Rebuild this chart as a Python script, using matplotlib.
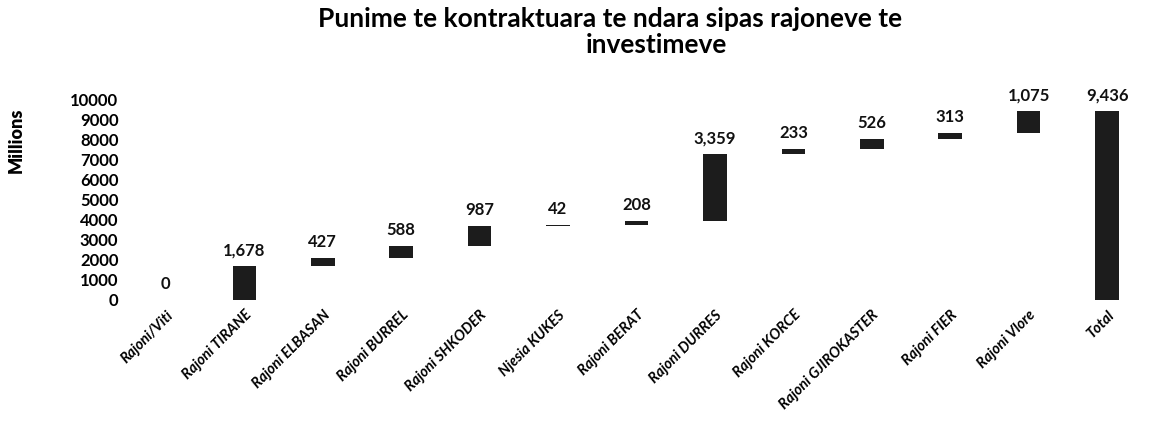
import matplotlib.pyplot as plt
import numpy as np

# Data (values in millions)
categories = ['Rajoni/Viti', 'Rajoni TIRANE', 'Rajoni ELBASAN', 'Rajoni BURREL',
              'Rajoni SHKODER', 'Njesia KUKES', 'Rajoni BERAT', 'Rajoni DURRES',
              'Rajoni KORCE', 'Rajoni GJIROKASTER', 'Rajoni FIER', 'Rajoni Vlore', 'Total']
values = [0, 1678, 427, 588, 987, 42, 208, 3359, 233, 526, 313, 1075, 9436]
y_ticks = [0, 1000, 2000, 3000, 4000, 5000, 6000, 7000, 8000, 9000, 10000]

plt.rcParams['font.family'] = ['Lato', 'DejaVu Sans']

# Waterfall: each region starts where the previous one ended, total starts at 0
vals = np.array(values, dtype=float)
bottoms = np.concatenate([[0], np.cumsum(vals[:-1])])
bottoms[-1] = 0
x = np.arange(len(categories))

fig = plt.figure(figsize=(11.52, 4.25), dpi=100)
ax = fig.add_axes([0.11, 0.295, 0.885, 0.47])

ax.bar(x, vals, bottom=bottoms, width=0.3, color='#1c1c1c')

for xi, b, v in zip(x, bottoms, vals):
    ax.text(xi, b + v + 400, f'{int(v):,}', ha='center', va='bottom',
            fontsize=12, fontweight='bold', color='#111111')

ax.set_xlim(-0.5, len(categories) - 0.5)
ax.set_ylim(0, 10000)
ax.set_yticks(y_ticks)
ax.set_yticklabels([str(t) for t in y_ticks], fontsize=12, fontweight='bold')
ax.set_xticks(x)
ax.set_xticklabels(categories, rotation=45, ha='right', rotation_mode='anchor',
                   fontsize=10.5, fontweight='bold', fontstyle='italic')
ax.tick_params(length=0, pad=6)
for s in ax.spines.values():
    s.set_visible(False)

fig.text(16 / 1152, 1 - 140 / 425, 'Millions', rotation=90, ha='center', va='center',
         fontsize=13, fontweight='heavy')
fig.text(0.53, 0.955, 'Punime te kontraktuara te ndara sipas rajoneve te',
         ha='center', va='center', fontsize=19, fontweight='bold')
fig.text(0.57, 0.895, 'investimeve', ha='center', va='center',
         fontsize=19, fontweight='bold')

fig.savefig('out.png', dpi=100)
